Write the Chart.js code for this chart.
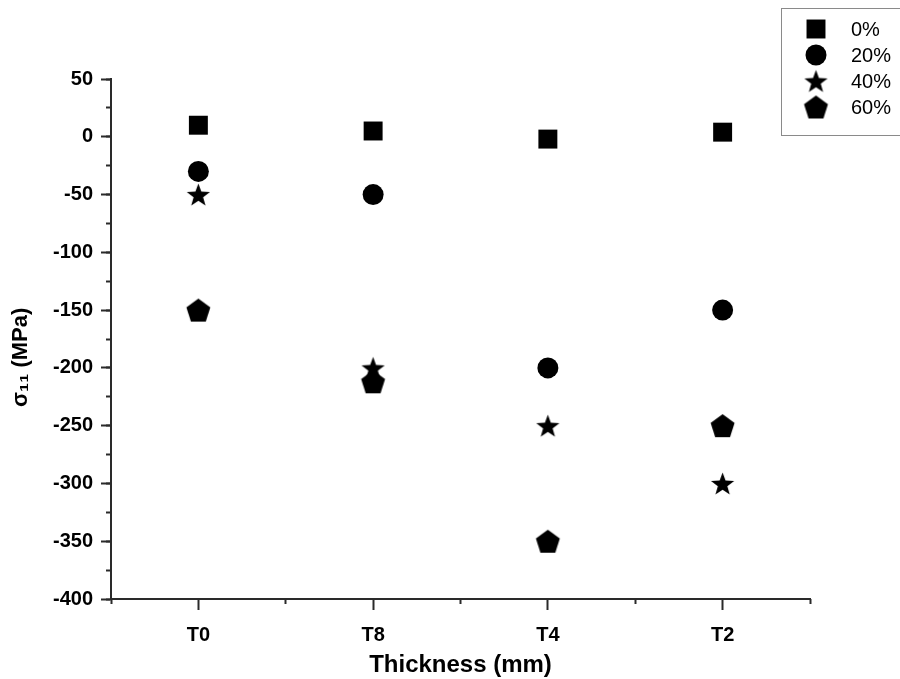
<!DOCTYPE html>
<html><head><meta charset="utf-8">
<script src="https://cdn.jsdelivr.net/npm/chart.js@4/dist/chart.umd.min.js"></script>
<style>html,body{margin:0;padding:0;background:#fff}canvas{display:block}</style>
</head><body>
<canvas id="c" width="900" height="679"></canvas>
<script>
// ---- data ----
const categories = ['T0', 'T8', 'T4', 'T2'];
const seriesNames = ['0%', '20%', '40%', '60%'];
const values0  = [10, 5, -2, 4];
const values20 = [-30, -50, -200, -150];
const values40 = [-50, -200, -250, -300];
const values60 = [-150, -212, -350, -250];
const yMin = -400, yMax = 50, yMajorStep = 50, yMinorStep = 25;
const xTitle = 'Thickness (mm)';
const yTitle = 'σ₁₁ (MPa)';

// ---- marker shapes ----
function starCanvas(R, r) {
  const s = 2 * Math.ceil(R) + 3;
  const cv = document.createElement('canvas');
  cv.width = s; cv.height = s;
  const c = cv.getContext('2d');
  const cx = s / 2, cy = s / 2 + 0.095 * R;
  c.beginPath();
  for (let i = 0; i < 10; i++) {
    const a = -Math.PI / 2 + i * Math.PI / 5;
    const rad = i % 2 ? r : R;
    const px = cx + rad * Math.cos(a), py = cy + rad * Math.sin(a);
    i ? c.lineTo(px, py) : c.moveTo(px, py);
  }
  c.closePath();
  c.fillStyle = '#000';
  c.fill();
  return cv;
}
function pentagonCanvas(R) {
  const s = 2 * Math.ceil(R) + 3;
  const cv = document.createElement('canvas');
  cv.width = s; cv.height = s;
  const c = cv.getContext('2d');
  const cx = s / 2, cy = s / 2 + 0.095 * R;
  c.beginPath();
  for (let i = 0; i < 5; i++) {
    const a = -Math.PI / 2 + i * 2 * Math.PI / 5;
    const px = cx + R * Math.cos(a), py = cy + R * Math.sin(a);
    i ? c.lineTo(px, py) : c.moveTo(px, py);
  }
  c.closePath();
  c.fillStyle = '#000';
  c.fill();
  return cv;
}
const starImg = starCanvas(12.2, 5.0);
const pentImg = pentagonCanvas(12.6);

const FONT = '"Liberation Sans", Arial, Helvetica, sans-serif';
const AXIS = '#2a2a2a';

function ds(label, data, style, radius) {
  return {
    label, data,
    showLine: false,
    pointStyle: style,
    pointRadius: radius,
    pointHoverRadius: radius,
    pointBackgroundColor: '#000',
    pointBorderColor: '#000',
    pointBorderWidth: 0,
    backgroundColor: '#000',
    borderColor: '#000',
    xAxisID: 'x', yAxisID: 'y',
    clip: false
  };
}

const legendPlugin = {
  id: 'boxLegend',
  afterDraw(chart) {
    const ctx = chart.ctx;
    ctx.save();
    ctx.strokeStyle = '#8a8a8a';
    ctx.lineWidth = 1;
    ctx.strokeRect(781.5, 8.5, 140, 127);
    chart.data.datasets.forEach((d, i) => {
      const y = 29 + i * 26;
      ctx.fillStyle = '#000';
      ctx.strokeStyle = '#000';
      Chart.helpers.drawPoint(ctx, {pointStyle: d.pointStyle, radius: d.pointRadius, rotation: 0, borderWidth: 0}, 816, y);
      ctx.fillStyle = '#000';
      ctx.font = '20px ' + FONT;
      ctx.textBaseline = 'middle';
      ctx.textAlign = 'left';
      ctx.fillText(d.label, 851, y + 1);
    });
    ctx.restore();
  }
};

new Chart(document.getElementById('c'), {
  type: 'line',
  data: {
    labels: categories,
    datasets: [
      ds(seriesNames[0], values0, 'rect', 13.4),
      ds(seriesNames[1], values20, 'circle', 10.5),
      ds(seriesNames[2], values40, starImg, 12),
      ds(seriesNames[3], values60, pentImg, 12)
    ]
  },
  options: {
    responsive: false,
    devicePixelRatio: 1,
    animation: false,
    layout: {padding: {top: 79, right: 90, bottom: 0, left: 0}},
    plugins: {legend: {display: false}, tooltip: {enabled: false}},
    scales: {
      x: {
        type: 'category', position: 'bottom', weight: 1, offset: true,
        grid: {display: true, drawOnChartArea: false, drawTicks: true, offset: false,
               tickLength: 11, tickWidth: 2, tickColor: AXIS},
        border: {display: true, color: AXIS, width: 2},
        ticks: {color: '#000', font: {family: FONT, size: 20, weight: 'bold'}, padding: 13, maxRotation: 0},
        title: {display: true, text: xTitle, color: '#000', font: {family: FONT, size: 24, weight: 'bold', lineHeight: 1.1},
                padding: {top: 0, bottom: 0}},
        afterFit(s) { s.height = 80; }
      },
      x2: {
        type: 'category', position: 'bottom', weight: 0, offset: true,
        grid: {display: true, drawOnChartArea: false, drawTicks: true, offset: true,
               tickLength: 5, tickWidth: 2, tickColor: AXIS},
        border: {display: false},
        ticks: {display: false},
        afterFit(s) { s.height = 0; }
      },
      y: {
        type: 'linear', position: 'left', weight: 1, min: yMin, max: yMax,
        grid: {display: true, drawOnChartArea: false, drawTicks: true,
               tickLength: 10, tickWidth: 2, tickColor: AXIS},
        border: {display: true, color: AXIS, width: 2},
        ticks: {stepSize: yMajorStep, color: '#000', font: {family: FONT, size: 20, weight: 'bold'}, padding: 8},
        title: {display: true, text: yTitle + '\u00A0\u00A0\u00A0\u00A0\u00A0\u00A0', color: '#000',
                font: {family: FONT, size: 22, weight: 'bold'}, padding: {top: 8, bottom: 0}},
        afterFit(s) { s.width = 111; }
      },
      y2: {
        type: 'linear', position: 'left', weight: 0, min: yMin, max: yMax,
        grid: {display: true, drawOnChartArea: false, drawTicks: true,
               tickLength: 5, tickWidth: 2, tickColor: AXIS},
        border: {display: false},
        ticks: {stepSize: yMinorStep, display: false},
        afterFit(s) { s.width = 0; }
      }
    }
  },
  plugins: [legendPlugin]
});
</script>
</body></html>
